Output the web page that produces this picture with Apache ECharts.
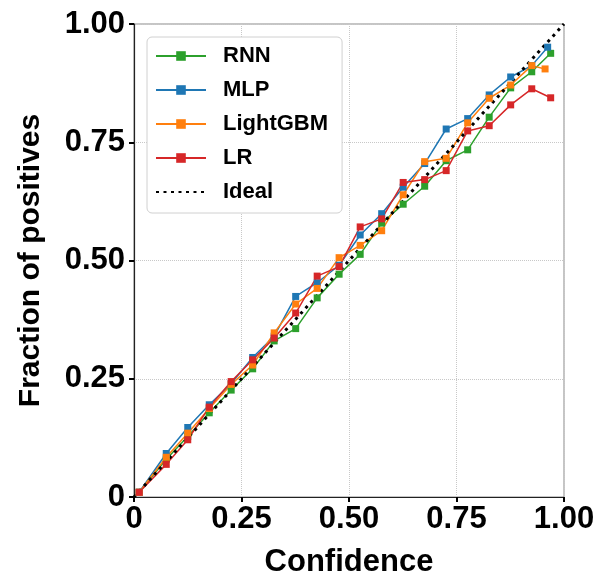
<!DOCTYPE html>
<html>
<head>
<meta charset="utf-8">
<script src="https://cdn.jsdelivr.net/npm/echarts@6/dist/echarts.min.js"></script>
<style>
html,body{margin:0;padding:0;background:#fff;}
#chart{width:598px;height:583px;}
</style>
</head>
<body>
<div id="chart"></div>
<script>
const tickLabels = ['0', '0.25', '0.50', '0.75', '1.00'];
const confidence = [0.012, 0.075, 0.125, 0.175, 0.226, 0.276, 0.326, 0.376, 0.426, 0.477, 0.526, 0.576, 0.626, 0.676, 0.726, 0.776, 0.826, 0.876, 0.925];
const rnnLastX = 0.969, mlpLastX = 0.962, lgbmLastX = 0.956, lrLastX = 0.969;
const rnn  = [0.010, 0.080, 0.128, 0.178, 0.226, 0.271, 0.330, 0.356, 0.421, 0.471, 0.513, 0.579, 0.619, 0.657, 0.711, 0.734, 0.803, 0.865, 0.899, 0.938];
const mlp  = [0.010, 0.092, 0.147, 0.195, 0.240, 0.295, 0.340, 0.424, 0.453, 0.490, 0.554, 0.599, 0.655, 0.705, 0.778, 0.800, 0.850, 0.888, 0.912, 0.951];
const lgbm = [0.010, 0.084, 0.135, 0.187, 0.238, 0.279, 0.347, 0.408, 0.441, 0.506, 0.532, 0.563, 0.639, 0.709, 0.716, 0.791, 0.843, 0.871, 0.912, 0.905];
const lr   = [0.010, 0.069, 0.121, 0.190, 0.244, 0.290, 0.336, 0.389, 0.467, 0.487, 0.571, 0.588, 0.665, 0.671, 0.690, 0.774, 0.785, 0.829, 0.863, 0.844];
const ideal = [[0, 0], [1, 1]];

function pairs(ys, lastX) {
  const xs = confidence.concat([lastX]);
  return ys.map((y, i) => [xs[i], y]);
}

const FONT = '"Liberation Sans", Arial, Helvetica, sans-serif';
const chart = echarts.init(document.getElementById('chart'), null, {renderer: 'canvas'});

function lineSeries(name, color, data) {
  return {
    name: name, type: 'line', data: data,
    symbol: 'rect', symbolSize: 7, showSymbol: true,
    itemStyle: {color: color},
    lineStyle: {color: color, width: 1.5},
    emphasis: {disabled: true},
    animation: false
  };
}

const labelFmt = v => {
  const idx = Math.round(v / 0.25);
  return tickLabels[idx] !== undefined ? tickLabels[idx] : '';
};

chart.setOption({
  backgroundColor: '#fff',
  animation: false,
  grid: {left: 134, right: 34, top: 24, bottom: 86, show: true, borderColor: '#8a8a8a', borderWidth: 1},
  legend: {
    orient: 'vertical', left: 147, top: 37,
    padding: [6, 14, 8, 8],
    itemWidth: 50, itemHeight: 12, itemGap: 8,
    backgroundColor: '#fff', borderColor: '#d0d0d0', borderWidth: 1, borderRadius: 5,
    textStyle: {fontFamily: FONT, fontWeight: 'bold', fontSize: 22, color: '#000', lineHeight: 26, padding: [0, 0, 0, 12]},
    data: ['RNN', 'MLP', 'LightGBM', 'LR',
      {name: 'Ideal', itemStyle: {color: 'rgba(0,0,0,0)', borderWidth: 0, opacity: 0}}]
  },
  xAxis: {
    type: 'value', min: 0, max: 1, interval: 0.25,
    name: 'Confidence', nameLocation: 'middle', nameGap: 50,
    nameTextStyle: {fontFamily: FONT, fontWeight: 'bold', fontSize: 31, color: '#000'},
    axisLine: {show: true, lineStyle: {color: '#222', width: 1.2}},
    axisTick: {show: true, length: 5, lineStyle: {color: '#000', width: 2}},
    axisLabel: {formatter: labelFmt, fontFamily: FONT, fontWeight: 'bold', fontSize: 31, color: '#000', margin: 7},
    splitLine: {show: true, lineStyle: {color: '#c8c8c8', type: 'dotted', width: 1}}
  },
  yAxis: {
    type: 'value', min: 0, max: 1, interval: 0.25,
    name: 'Fraction of positives', nameLocation: 'middle', nameGap: 88, nameRotate: 90,
    nameTextStyle: {fontFamily: FONT, fontWeight: 'bold', fontSize: 30, color: '#000'},
    axisLine: {show: true, lineStyle: {color: '#222', width: 1.2}},
    axisTick: {show: true, length: 5, lineStyle: {color: '#000', width: 2}},
    axisLabel: {formatter: labelFmt, fontFamily: FONT, fontWeight: 'bold', fontSize: 31, color: '#000', margin: 9},
    splitLine: {show: true, lineStyle: {color: '#c8c8c8', type: 'dotted', width: 1}}
  },
  series: [
    lineSeries('RNN', '#2ca02c', pairs(rnn, rnnLastX)),
    lineSeries('MLP', '#1f77b4', pairs(mlp, mlpLastX)),
    lineSeries('LightGBM', '#ff7f0e', pairs(lgbm, lgbmLastX)),
    lineSeries('LR', '#d62728', pairs(lr, lrLastX)),
    {
      name: 'Ideal', type: 'line', data: ideal, symbol: 'none',
      itemStyle: {color: '#000'},
      lineStyle: {color: '#000', width: 3, type: [3, 4.5]},
      emphasis: {disabled: true}, animation: false
    }
  ]
});
</script>
</body>
</html>
